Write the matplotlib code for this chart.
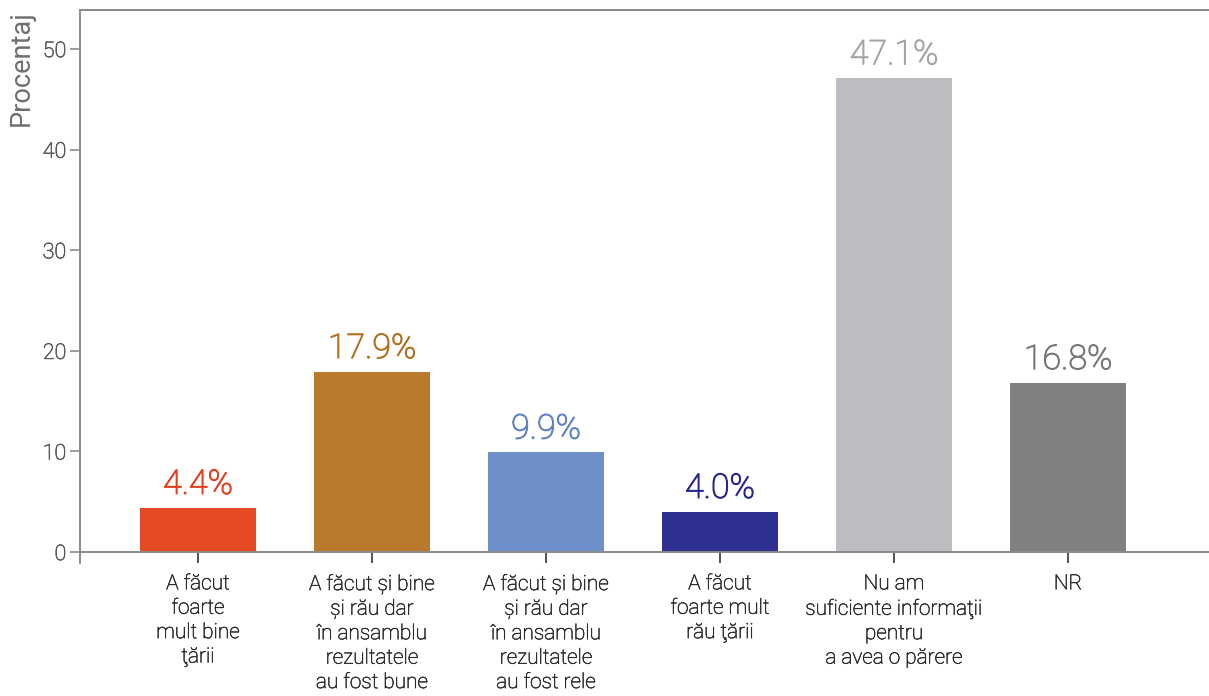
import matplotlib
matplotlib.use("Agg")
import matplotlib.pyplot as plt
import matplotlib.patheffects as pe

# data
categories = [
    "A făcut\nfoarte\nmult bine\nţării",
    "A făcut și bine\nși rău dar\nîn ansamblu\nrezultatele\nau fost bune",
    "A făcut și bine\nși rău dar\nîn ansamblu\nrezultatele\nau fost rele",
    "A făcut\nfoarte mult\nrău ţării",
    "Nu am\nsuficiente informaţii\npentru\na avea o părere",
    "NR",
]
values = [4.4, 17.9, 9.9, 4.0, 47.1, 16.8]
labels = ["4.4%", "17.9%", "9.9%", "4.0%", "47.1%", "16.8%"]
bar_colors = ["#E64A24", "#B8792D", "#6E8FC9", "#2E3192", "#BCBDC1", "#808083"]
label_colors = ["#E33F1C", "#B0701F", "#5F82C2", "#26288A", "#A2A4A8", "#77777A"]
yticks = [0, 10, 20, 30, 40, 50]

plt.rcParams['font.family'] = ['Roboto', 'DejaVu Sans']
plt.rcParams['font.weight'] = 'light'


def thicker(color, lw=0.6):
    # light weight is a touch too thin, fatten it a little
    return [pe.withStroke(linewidth=lw, foreground=color)]


fig = plt.figure(figsize=(12.09, 6.96), dpi=100)
ax = fig.add_axes([0.0662, 0.191, 0.9338, 0.7946])

x = list(range(len(values)))
ax.bar(x, values, width=0.667, color=bar_colors, zorder=2)

for xi, v, lab, c in zip(x, values, labels, label_colors):
    ax.annotate(lab, (xi, v), xytext=(0, 5), textcoords='offset points',
                ha='center', va='bottom', fontsize=24.5, color=c,
                path_effects=thicker(c, 0.8))

ax.set_xlim(-0.678, 5.81)
ax.set_ylim(-1.09, 53.88)

spine_col = "#8a8a8c"
ax.spines['right'].set_visible(False)
for s in ['left', 'top', 'bottom']:
    ax.spines[s].set_color(spine_col)
    ax.spines[s].set_linewidth(1.4)
ax.spines['bottom'].set_position(('data', 0))

ax.set_yticks(yticks)
ax.set_yticklabels([str(t) for t in yticks], fontsize=15.5, color="#58595b")
ax.tick_params(axis='y', length=7, width=1.2, color=spine_col, pad=3)
for t in ax.get_yticklabels():
    t.set_path_effects(thicker("#58595b", 0.5))

ax.set_xticks(x)
ax.set_xticklabels(categories, fontsize=15, color="#2b2b2d", linespacing=1.36)
ax.tick_params(axis='x', length=8, width=1.2, color="#333333", pad=8)
for t in ax.get_xticklabels():
    t.set_path_effects(thicker("#2b2b2d", 0.4))

ax.set_ylabel("Procentaj", fontsize=19.5, fontweight='normal', color="#6d6e71",
              loc='top', labelpad=6)

fig.savefig("out.png", dpi=100)
